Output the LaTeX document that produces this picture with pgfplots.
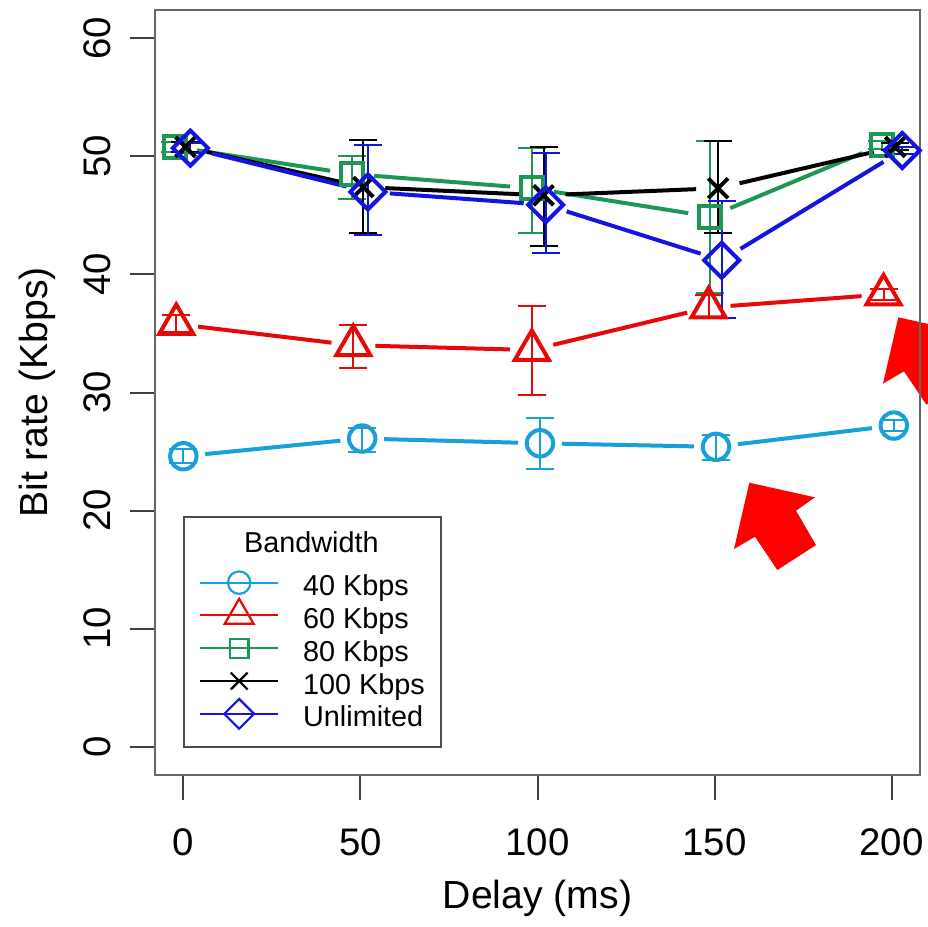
\documentclass[border=0pt]{standalone}
\usepackage{fontspec}
\setmainfont{Liberation Sans}
\usepackage{pgfplots}
\pgfplotsset{compat=1.18}
\usepackage{pgfplotstable}

\definecolor{cA}{RGB}{24,160,216}
\definecolor{cB}{RGB}{232,8,8}
\definecolor{cC}{RGB}{30,150,85}
\definecolor{cD}{RGB}{0,0,0}
\definecolor{cE}{RGB}{20,20,225}

% 40 Kbps
\pgfplotstableread{
x y ep em
0 24.6 0.6 0.6
50.5 26.1 0.9 1.1
100.7 25.7 2.1 2.2
150.4 25.4 1.0 1.1
200.6 27.2 0.5 0.5
}\tabA
% 60 Kbps
\pgfplotstableread{
x y ep em
-2.0 35.8 0.8 0.7
48.0 34.0 1.7 1.9
98.4 33.6 3.75 3.8
148.3 37.2 1.1 0.9
197.7 38.3 0.5 0.5
}\tabB
% 80 Kbps
\pgfplotstableread{
x y ep em
-2.3 50.8 0.4 0.4
47.6 48.5 1.5 2.1
98.4 47.3 3.4 3.8
148.7 44.9 6.4 6.5
197.4 51.0 0.3 0.4
}\tabC
% 100 Kbps
\pgfplotstableread{
x y ep em
0.6 50.8 0.4 0.4
50.8 47.4 4.0 3.9
101.7 46.7 4.1 4.3
151.0 47.3 4.0 3.8
201.0 50.8 0.3 0.3
}\tabD
% Unlimited
\pgfplotstableread{
x y ep em
2.0 50.7 0.4 0.4
52.1 47.0 4.0 3.7
102.3 45.9 4.4 4.1
152.0 41.2 5.0 4.9
203.0 50.5 0.3 0.3
}\tabE

\pgfplotsset{seg/.style 2 args={forget plot, line width=1pt, shorten <=5.5pt, shorten >=5.5pt,
  x filter/.expression={(\coordindex<#1 || \coordindex>#2) ? nan : x}}}
\newcommand{\segs}[2]{%
  \addplot[#2, seg={0}{1}] table[x=x,y=y]{#1};
  \addplot[#2, seg={1}{2}] table[x=x,y=y]{#1};
  \addplot[#2, seg={2}{3}] table[x=x,y=y]{#1};
  \addplot[#2, seg={3}{4}] table[x=x,y=y]{#1};
}

\begin{document}
\begin{tikzpicture}
% red annotation arrows
\fill[red] (148.575pt,73.075pt) -- (165pt,69.425pt) -- (160.25pt,66.075pt) -- (165.25pt,57.5pt) -- (155.575pt,51.25pt) -- (150pt,59.575pt) -- (144.75pt,56.5pt) -- cycle;
\begin{scope}[shift={(37.25pt,41.35pt)}]
\fill[red] (148.575pt,73.075pt) -- (165pt,69.425pt) -- (160.25pt,66.075pt) -- (165.25pt,57.5pt) -- (155.575pt,51.25pt) -- (150pt,59.575pt) -- (144.75pt,56.5pt) -- cycle;
\end{scope}
\begin{axis}[
  at={(0,0)}, anchor=south west,
  scale only axis, width=191.25pt, height=191.25pt,
  xmin=-8, xmax=208, ymin=-2.4, ymax=62.4,
  xtick={0,50,100,150,200}, ytick={0,10,20,30,40,50,60},
  xtick pos=bottom, ytick pos=left,
  tick align=outside, major tick length=6.25pt,
  tick style={black!75, line width=0.5pt},
  axis line style={black!60, line width=0.6pt},
  /pgf/number format/assume math mode=true,
  tick label style={font=\fontsize{9.6}{11}\selectfont, inner sep=0pt},
  xticklabel style={anchor=north},
  yticklabel style={rotate=90, anchor=south},
  xticklabel shift=7pt, yticklabel shift=4.5pt,
  xlabel={Delay (ms)}, ylabel={Bit rate (Kbps)},
  label style={font=\fontsize{9.8}{12}\selectfont},
  xlabel style={at={(axis description cs:0.5,-0.1739)}, anchor=base},
  ylabel style={at={(axis description cs:-0.1399,0.5)}, rotate=0, anchor=base},
  legend cell align=left,
  legend style={at={(axis description cs:0.0371,0.035)}, anchor=south west,
    draw=black!70, line width=0.5pt, fill=white,
    inner xsep=4pt, inner ysep=3.3pt, row sep=1.2pt, column sep=6.3pt,
    font=\fontsize{7.2}{8.6}\selectfont,
    nodes={inner sep=0pt, text height=5.2pt, text depth=1.8pt}},
  legend image code/.code={
    \path[use as bounding box, draw=none, fill=none] (0pt,-3.5pt) rectangle (19.4pt,3.5pt);
    \draw[sharp plot, line width=0.5pt, mark repeat=2, mark phase=2,
      every mark/.append style={scale=0.85, line width=0.55pt}]
      plot coordinates {(0pt,1.55pt) (9.7pt,1.55pt) (19.4pt,1.55pt)};
  },
  error bars/error bar style={line width=0.5pt},
  error bars/error mark options={rotate=90, mark size=3.5pt, line width=0.5pt},
]
\addlegendimage{empty legend}
\addlegendentry[text height=5.5pt, text depth=4.45pt]{\hspace*{-14.75pt}Bandwidth}

\segs{\tabA}{cA}
\addplot[cA, only marks, mark=o, mark size=3.3pt, mark options={line width=1pt},
  error bars/.cd, y dir=both, y explicit]
  table[x=x, y=y, y error plus=ep, y error minus=em]{\tabA};
\addlegendentry{40 Kbps}

\segs{\tabB}{cB}
\addplot[cB, only marks, mark=triangle, mark size=4.9pt, mark options={line width=1pt},
  error bars/.cd, y dir=both, y explicit]
  table[x=x, y=y, y error plus=ep, y error minus=em]{\tabB};
\addlegendentry{60 Kbps}

\segs{\tabC}{cC}
\addplot[cC, only marks, mark=square, mark size=2.75pt, mark options={line width=1pt},
  error bars/.cd, y dir=both, y explicit]
  table[x=x, y=y, y error plus=ep, y error minus=em]{\tabC};
\addlegendentry{80 Kbps}

\segs{\tabD}{cD}
\addplot[cD, only marks, mark=x, mark size=3.5pt, mark options={line width=1pt},
  error bars/.cd, y dir=both, y explicit]
  table[x=x, y=y, y error plus=ep, y error minus=em]{\tabD};
\addlegendentry{100 Kbps}

\segs{\tabE}{cE}
\addplot[cE, only marks, mark=square, mark size=3.1pt, mark options={line width=1pt, rotate=45},
  error bars/.cd, y dir=both, y explicit]
  table[x=x, y=y, y error plus=ep, y error minus=em]{\tabE};
\addlegendentry{Unlimited}
\end{axis}
\pgfresetboundingbox
\path (-38.75pt,-37.75pt) rectangle (193.25pt,193.75pt);
\end{tikzpicture}
\end{document}
